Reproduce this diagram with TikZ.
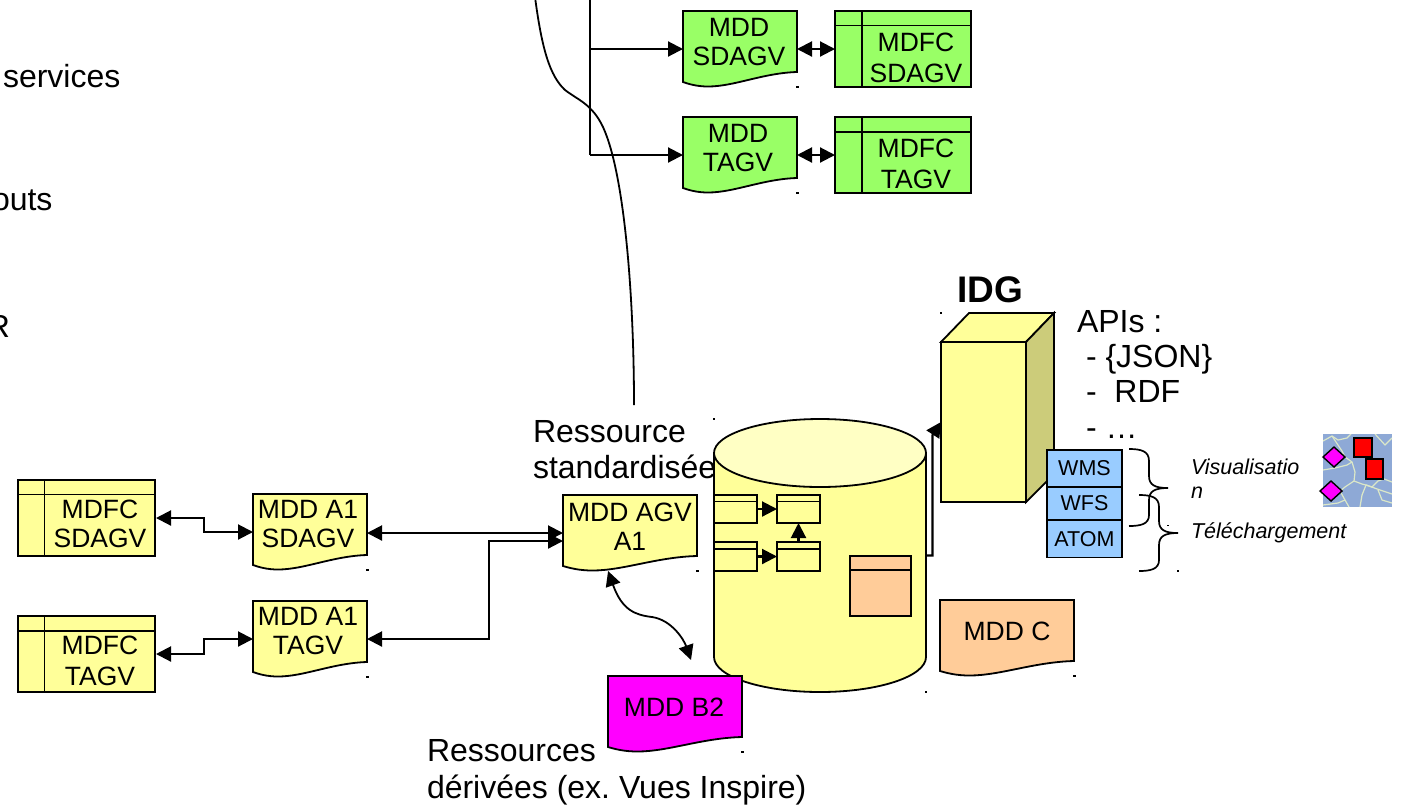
\documentclass[tikz,border=0pt]{standalone}
\usepackage{fontspec}
\setmainfont{Liberation Sans}
\usetikzlibrary{arrows.meta,calc}
\definecolor{yel}{HTML}{FFFF99}
\definecolor{yeltop}{HTML}{FFFFC4}
\definecolor{yeldark}{HTML}{CCCC7A}
\definecolor{grn}{HTML}{99FF66}
\definecolor{org}{HTML}{FFCC99}
\definecolor{mag}{HTML}{FF00FF}
\definecolor{blu}{HTML}{99CCFF}
\definecolor{mapbg}{HTML}{8EA9D6}
\definecolor{mapline}{HTML}{DCE8C8}
\frenchspacing
\tikzset{
  x=1pt,y=-1pt,
  outline/.style={draw=black,line width=1.8pt,line join=miter},
  lab/.style={inner sep=0pt,outer sep=0pt,anchor=north,align=center,text=black,font=\fontsize{26.5}{29}\selectfont},
  big/.style={inner sep=0pt,outer sep=0pt,anchor=base west,text=black,font=\fontsize{32}{32}\selectfont},
  ital/.style={inner sep=0pt,outer sep=0pt,anchor=base west,text=black,font=\fontsize{21.5}{21.5}\selectfont\itshape},
  svc/.style={draw=black,line width=1.8pt,fill=blu,inner sep=0pt,outer sep=0pt,minimum width=75pt,font=\fontsize{21.5}{21.5}\selectfont},
  conn/.style={draw=black,line width=2.1pt,line join=miter},
  tipr/.style={-{Triangle[length=15pt,width=15pt]}},
  tiplr/.style={{Triangle[length=15pt,width=15pt]}-{Triangle[length=15pt,width=15pt]}},
  mapl/.style={draw=mapline,line width=1.2pt,line join=round},
  brace/.style={draw=black,line width=1.7pt},
}
% document shape: name, x1, y1, x2, fill
\newcommand{\docshape}[5]{%
  \pgfmathsetmacro{\dw}{#4-#2}
  \pgfmathsetmacro{\da}{#2+0.70*\dw}
  \pgfmathsetmacro{\db}{#2+0.45*\dw}
  \pgfmathsetmacro{\dc}{#2+0.22*\dw}
  \pgfmathsetmacro{\dd}{#2+0.12*\dw}
  \pgfmathsetmacro{\de}{#2+0.05*\dw}
  \draw[outline,fill=#5] (#2,#3) -- (#4,#3) -- (#4,#3+61)
    .. controls (\da,#3+62) and (\db,#3+75.5) .. (\dc,#3+75.5)
    .. controls (\dd,#3+75.5) and (\de,#3+73) .. (#2,#3+71) -- cycle;
  \node[inner sep=0pt,outer sep=0pt,minimum width=\dw pt,minimum height=76pt,anchor=north west] (#1) at (#2,#3) {};
  \fill (#4-1,#3+75) rectangle (#4+1.5,#3+76.5);
}
% table shape: name, x1, y1, x2, y2, header y, column x, fill
\newcommand{\tabshape}[8]{%
  \pgfmathsetmacro{\tw}{#4-#2}
  \pgfmathsetmacro{\th}{#5-#3}
  \node[outline,fill=#8,inner sep=0pt,outer sep=0pt,minimum width=\tw pt,minimum height=\th pt,anchor=north west] (#1) at (#2,#3) {};
  \draw[outline] (#2,#6) -- (#4,#6) (#7,#3) -- (#7,#5);
}
\newcommand{\tick}[2]{\fill (#1-1,#2-0.7) rectangle (#1+1.2,#2+0.7);}
\begin{document}
\begin{tikzpicture}
\useasboundingbox (0,0) rectangle (1404,807);
\begin{scope}
\clip (0,0) rectangle (1404,807);

% left cropped texts
\node[big] (tservices) at (3,87) {services};
\node[big] (touts) at (-8,210) {outs};
\node[big] (tr) at (-13,337) {R};

% long curve and bus
\coordinate (curvea) at (535,-3);
\coordinate (curveb) at (634,405);
\draw[line width=1.8pt] (curvea) .. controls (542,50) and (550,76) .. (565,90)
  .. controls (578,100) and (592,104) .. (603,127)
  .. controls (625,175) and (634,300) .. (curveb);

% green documents
\docshape{mdds}{683}{11}{797}{grn}
\node[lab] (mddst) at (739,18) {MDD\\SDAGV};
\docshape{mddt}{683}{117}{797}{grn}
\node[lab] (mddtt) at (738,124) {MDD\\TAGV};
\tabshape{mdfcs}{835}{11}{971}{87}{25.5}{862}{grn}
\node[lab] (mdfcst) at (916,32.5) {MDFC\\[2.5pt]SDAGV};
\tabshape{mdfct}{835}{117}{971}{193}{132}{862}{grn}
\node[lab] (mdfctt) at (916,138.5) {MDFC\\[2.5pt]TAGV};

\coordinate (busa) at (589.7,-3);
\coordinate (busb) at (589.7,155);
\coordinate (busc) at (589.7,49);
\draw[conn] (busa) -- (busb);
\draw[conn,tipr] (busc) -- (mdds.west);
\draw[conn,tipr] (busb) -- (mddt.west);
\draw[conn,tiplr] (mdds.east) -- (mdfcs.west);
\draw[conn,tiplr] (mddt.east) -- (mdfct.west);

% yellow left tables and docs
\tabshape{ymdfcs}{18}{480}{155}{556}{494.5}{44.5}{yel}
\node[lab] (ymdfcst) at (100,500) {MDFC\\SDAGV};
\tabshape{ymdfct}{18}{616}{155}{692}{631}{44.5}{yel}
\node[lab] (ymdfctt) at (100,636) {MDFC\\[2pt]TAGV};
\docshape{a1s}{253}{494}{367}{yel}
\node[lab] (a1st) at (308,500.5) {MDD A1\\SDAGV};
\docshape{a1t}{253}{601}{367}{yel}
\node[lab] (a1tt) at (308,607.5) {MDD A1\\TAGV};
\docshape{agv}{563}{495}{697}{yel}
\node[lab] (agvt) at (630,502.5) {MDD AGV\\A1};

\draw[conn,tiplr] (ymdfcs.east) ++(1,0) -- ++(48,0) |- (a1s.west);
\draw[conn,tiplr] (ymdfct.east) ++(1,0) -- ++(48,0) |- (a1t.west);
\draw[conn,tiplr] (agv.west -| a1s.east) -- (agv.west);
\coordinate (agvport) at ($(agv.west)+(0,8)$);
\draw[conn,tiplr] (a1t.east) -- (489,639) |- (agvport);

% labels
\node[big] (tres) at (533,442) {Ressource};
\node[big] (tstd) at (533,478.5) {standardisée};

% cylinder
\node[inner sep=0pt,outer sep=0pt,minimum width=212pt,minimum height=273pt,anchor=north west] (cyl) at (714,419) {};
\draw[outline,fill=yel] (714,453) -- (714,657) arc[start angle=180,end angle=360,x radius=106,y radius=-35] -- (926,453) -- cycle;
\draw[outline,fill=yeltop] (820,453) ellipse[x radius=106,y radius=34];
\tick{714}{419}
\tick{926}{692}

% inner tables
\tabshape{ta}{714}{495}{757}{523}{501.5}{714}{yel}
\tabshape{tb}{777}{495}{820}{523}{501.5}{777}{yel}
\tabshape{tc}{714}{542}{757}{571}{549}{714}{yel}
\tabshape{td}{777}{542}{820}{571}{549}{777}{yel}
\tabshape{te}{850}{556}{911}{616}{570}{850}{org}
\draw[conn,tipr] (ta.east) -- (tb.west);
\draw[conn,tipr] (tc.east) -- (td.west);
\draw[conn,tipr] (td.north) -- (tb.south);

% IDG block
\draw[outline,fill=yel] (941,342) -- (969,313) -- (1054,313) -- (1026,342) -- cycle;
\draw[outline,fill=yeldark] (1026,342) -- (1054,313) -- (1054,474) -- (1026,502) -- cycle;
\node[outline,fill=yel,inner sep=0pt,outer sep=0pt,minimum width=85pt,minimum height=160pt,anchor=north west] (idg) at (941,342) {};
\tick{941}{313}
\node[inner sep=0pt,outer sep=0pt,anchor=base west,font=\fontsize{37}{37}\selectfont\bfseries] (tidg) at (957,302) {IDG};
\coordinate (elbow) at (932.5,435);
\coordinate (elbowb) at (932.5,555.5);
\draw[conn,tipr] (cyl.east) -- (elbowb) -- (elbow) -- (idg.west);

% API list
\node[big] (tapi) at (1077,332) {APIs :};
\node[big] (tjson) at (1086,367) {- \{JSON\}};
\node[big] (trdf) at (1086,402.5) {-~ RDF};
\node[big] (tdots) at (1086,438) {- …};

% service boxes
\node[svc,anchor=north west,minimum height=37pt] (wms) at (1047,450) {WMS};
\node[svc,anchor=north west,minimum height=33pt] (wfs) at (1047,487) {WFS};
\node[svc,anchor=north west,minimum height=37.5pt] (atom) at (1047,520) {ATOM};

% braces
\draw[brace] (1129,449) .. controls (1141,449) and (1149,451) .. (1149,461) -- (1149,476)
  .. controls (1149,485) and (1155,488) .. (1168,488)
  .. controls (1155,488) and (1149,491) .. (1149,500) -- (1149,515)
  .. controls (1149,524) and (1141,526) .. (1129,526);
\draw[brace] (1139,495) .. controls (1151,495) and (1159,497) .. (1159,507) -- (1159,521)
  .. controls (1159,530) and (1165,533) .. (1178,533)
  .. controls (1165,533) and (1159,536) .. (1159,545) -- (1159,560)
  .. controls (1159,569) and (1151,571) .. (1139,571);
\tick{1168}{525.5}
\tick{1178}{571}

\node[ital] (tvisa) at (1191,474) {Visualisatio};
\node[ital] (tvisb) at (1191,498) {n};
\node[ital] (ttel) at (1191,538) {Téléchargement};

% map
\fill[mapbg] (1323,434) rectangle (1392,507);
\begin{scope}
\clip (1323,434) rectangle (1392,507);
\draw[mapl] (1323,441) -- (1332,436) -- (1338,440) -- (1347,438) -- (1351,434);
\draw[mapl] (1332,436) -- (1342,451) -- (1345,457) -- (1352,462) -- (1355,472) -- (1354,481) -- (1362,484) -- (1366,485) -- (1380,490) -- (1392,494);
\draw[mapl] (1323,470) -- (1335,468) -- (1347,465) -- (1352,462);
\draw[mapl] (1354,481) -- (1345,487) -- (1340,491) -- (1345,500) -- (1349,507);
\draw[mapl] (1366,485) -- (1372,487) -- (1378,481) -- (1384,479) -- (1392,482);
\draw[mapl] (1375,434) -- (1385,445) -- (1392,438);
\draw[mapl] (1323,505) -- (1338,503) -- (1345,500);
\draw[mapl] (1378,490) -- (1382,500) -- (1392,503);
\draw[mapl] (1360,507) -- (1362,495) -- (1366,485);
\end{scope}
\draw[draw=black,line width=1.7pt,fill=red] (1354,438) rectangle (1372,457);
\draw[draw=black,line width=1.7pt,fill=red] (1366,459) rectangle (1383,479);
\draw[draw=black,line width=1.4pt,fill=mag] (1323,457) -- (1334,447) -- (1345,457) -- (1334,467) -- cycle;
\draw[draw=black,line width=1.4pt,fill=mag] (1320,491) -- (1331,481) -- (1342,491) -- (1331,501) -- cycle;

% bottom documents
\docshape{mddc}{940}{600}{1074}{org}
\node[lab] (mddct) at (1007,622) {MDD C};
\docshape{b2}{608}{676}{742}{mag}
\node[lab] (b2t) at (674,698) {MDD B2};
\coordinate (b2port) at ($(b2.north)+(16,-16)$);
\coordinate (curvemid) at (652,617);
\draw[conn,tiplr,line width=1.8pt] (agv.240) .. controls (622,610) and (635,615) .. (curvemid)
  .. controls (672,620) and (684,640) .. (b2port);

\node[big] (tresb) at (427,761) {Ressources};
\node[big] (tder) at (427,798) {dérivées (ex. Vues Inspire)};
\end{scope}
\end{tikzpicture}
\end{document}
